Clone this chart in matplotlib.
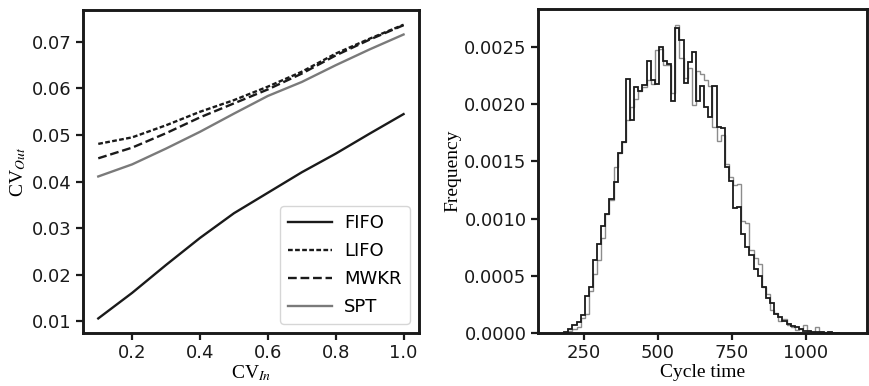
import matplotlib
matplotlib.use('Agg')
import matplotlib.pyplot as plt
import numpy as np

# left panel: CV of output vs CV of input for each dispatching rule
cv_in = [0.1, 0.2, 0.3, 0.4, 0.5, 0.6, 0.7, 0.8, 0.9, 1.0]
fifo = [0.0106, 0.0161, 0.0221, 0.0279, 0.0332, 0.0376, 0.0420, 0.0460, 0.0503, 0.0545]
lifo = [0.0481, 0.0495, 0.0521, 0.0550, 0.0575, 0.0604, 0.0636, 0.0675, 0.0707, 0.0737]
mwkr = [0.0450, 0.0473, 0.0504, 0.0538, 0.0568, 0.0598, 0.0632, 0.0671, 0.0705, 0.0736]
spt = [0.0411, 0.0437, 0.0471, 0.0507, 0.0546, 0.0584, 0.0614, 0.0650, 0.0684, 0.0716]

bin_start = 184.5
bin_width = 13.9
hist_dark = [0.00001, 0.00004, 0.00007, 0.0001, 0.000155, 0.00032, 0.0004, 0.00064, 0.00078, 0.00094,
             0.00104, 0.00117, 0.00132, 0.00157, 0.00167, 0.00222, 0.00186, 0.00215, 0.00212, 0.00217,
             0.00238, 0.00221, 0.00218, 0.0025, 0.00238, 0.00235, 0.00203, 0.00267, 0.00256, 0.00219,
             0.00237, 0.00246, 0.00203, 0.00216, 0.00198, 0.00189, 0.00216, 0.0018, 0.00179, 0.00145,
             0.00133, 0.00109, 0.0011, 0.00087, 0.00075, 0.00068, 0.00056, 0.0005, 0.0004, 0.00031,
             0.00026, 0.00017, 0.00014, 0.00011, 0.00008, 0.00006, 0.00005, 0.00004, 0.00002, 0.00002,
             0.00001, 0.00001, 0.00001, 0.000005, 0.00001, 0.0, 0.000005]
hist_grey = [0.0, 0.00002, 0.00004, 0.00005, 0.00013, 0.00017, 0.00037, 0.00052, 0.00064, 0.00083,
             0.00104, 0.00116, 0.00145, 0.00157, 0.00167, 0.00186, 0.00198, 0.00205, 0.00212, 0.00215,
             0.00221, 0.00218, 0.00247, 0.00248, 0.00234, 0.00234, 0.0021, 0.00269, 0.0024, 0.00223,
             0.00232, 0.00199, 0.00229, 0.00226, 0.00221, 0.00216, 0.0018, 0.00168, 0.00173, 0.00148,
             0.00136, 0.00129, 0.0013, 0.00098, 0.00096, 0.00073, 0.00066, 0.0006, 0.0004, 0.00034,
             0.0002, 0.00018, 0.00011, 0.00012, 0.00007, 0.00005, 0.00003, 0.00004, 0.00007, 0.00002,
             0.00001, 0.00005, 0.00001, 0.00001, 0.000005, 0.000005, 0.0]

plt.rcParams['mathtext.fontset'] = 'stix'
serif = ['Liberation Serif', 'DejaVu Serif']

fig = plt.figure(figsize=(8.7, 3.86), dpi=100)
ax1 = fig.add_axes([0.0954, 0.137, 0.386, 0.837])
ax2 = fig.add_axes([0.618, 0.137, 0.379, 0.839])

ax1.plot(cv_in, fifo, color='#1a1a1a', lw=1.7, label='FIFO')
ax1.plot(cv_in, lifo, color='#1a1a1a', lw=1.7, dashes=(2, 1), label='LIFO')
ax1.plot(cv_in, mwkr, color='#1a1a1a', lw=1.7, ls='--', label='MWKR')
ax1.plot(cv_in, spt, color='#7a7a7a', lw=1.7, label='SPT')
ax1.set_xticks([0.2, 0.4, 0.6, 0.8, 1.0])
ax1.set_yticks([0.01, 0.02, 0.03, 0.04, 0.05, 0.06, 0.07])
ax1.set_xlabel('CV$_{In}$', family=serif, fontsize=14, labelpad=1)
ax1.set_ylabel('CV$_{Out}$', family=serif, fontsize=14, labelpad=3)
ax1.legend(loc='lower right', fontsize=13, handlelength=2.4, borderpad=0.45,
           labelspacing=0.55, handletextpad=0.7, borderaxespad=0.5)

edges = bin_start + bin_width * np.arange(len(hist_dark) + 1)
ax2.stairs(hist_grey, edges, color='#8c8c8c', lw=1.0)
ax2.stairs(hist_dark, edges, color='#1a1a1a', lw=1.3)
ax2.set_xlim(95, 1208)
ax2.set_ylim(0, 0.00283)
ax2.set_xticks([250, 500, 750, 1000])
ax2.set_yticks([0.0, 0.0005, 0.001, 0.0015, 0.002, 0.0025])
ax2.set_yticklabels(['0.0000', '0.0005', '0.0010', '0.0015', '0.0020', '0.0025'])
ax2.set_xlabel('Cycle time', family=serif, fontsize=14, labelpad=1)
ax2.set_ylabel('Frequency', family=serif, fontsize=14, labelpad=2)

for ax in (ax1, ax2):
    for s in ax.spines.values():
        s.set_linewidth(2.1)
        s.set_color('#1a1a1a')
    ax.tick_params(labelsize=13, width=1.6, length=5, pad=3, colors='#1a1a1a')

fig.savefig('out.png', dpi=100)
